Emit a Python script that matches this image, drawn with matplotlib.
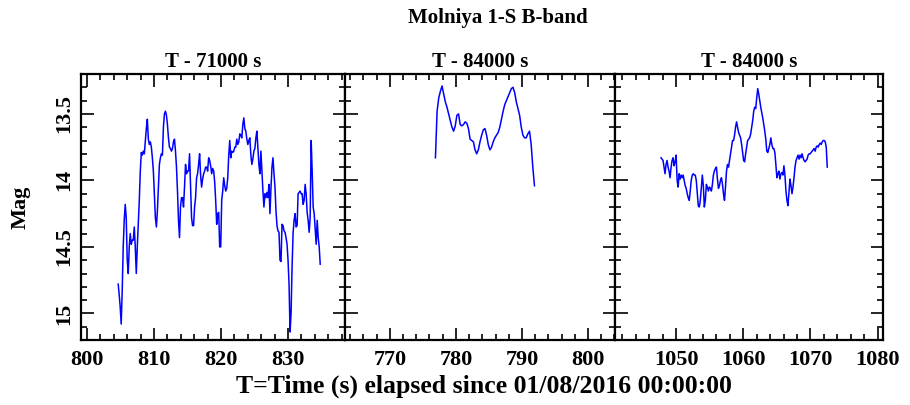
import numpy as np
import matplotlib
matplotlib.use("Agg")
import matplotlib.pyplot as plt
from matplotlib.ticker import MultipleLocator, FixedLocator

# ---- light-curve data (B-band magnitudes, uniform cadence per pass) ----
pass1_start, pass1_step = 804.65, 0.15
pass1_mag = [
    14.78, 14.86, 14.95, 15.08, 14.83, 14.50, 14.30, 14.18, 14.28, 14.60,
    14.70, 14.50, 14.40, 14.48, 14.45, 14.45, 14.35, 14.50, 14.70, 14.50,
    14.33, 14.15, 13.93, 13.79, 13.81, 13.78, 13.80, 13.70, 13.61, 13.54,
    13.69, 13.73, 13.71, 13.75, 13.83, 13.93, 14.10, 14.28, 14.35, 14.23,
    14.05, 13.88, 13.83, 13.80, 13.81, 13.60, 13.50, 13.48, 13.51, 13.58,
    13.68, 13.75, 13.76, 13.78, 13.76, 13.71, 13.69, 13.78, 13.90, 14.08,
    14.30, 14.43, 14.20, 14.13, 14.13, 14.20, 14.05, 13.88, 13.95, 13.93,
    13.93, 13.80, 14.04, 14.28, 14.34, 14.34, 14.20, 14.13, 13.98, 13.95,
    13.88, 13.80, 13.96, 14.05, 13.99, 13.95, 13.93, 13.90, 13.90, 13.93,
    13.83, 13.85, 13.89, 13.95, 13.91, 13.93, 14.01, 14.15, 14.33, 14.25,
    14.24, 14.50, 14.50, 14.15, 14.08, 13.98, 14.04, 14.08, 14.06, 13.98,
    13.81, 13.70, 13.83, 13.78, 13.79, 13.78, 13.75, 13.75, 13.69, 13.73,
    13.71, 13.65, 13.66, 13.68, 13.58, 13.53, 13.61, 13.63, 13.69, 13.73,
    13.70, 13.68, 13.81, 13.88, 13.84, 13.78, 13.76, 13.68, 13.63, 13.75,
    13.88, 13.95, 13.78, 13.93, 14.08, 14.20, 14.10, 14.13, 14.09, 14.13,
    14.03, 14.25, 14.06, 13.90, 13.83, 13.95, 14.05, 14.23, 14.34, 14.38,
    14.39, 14.60, 14.61, 14.33, 14.34, 14.38, 14.39, 14.43, 14.48, 14.60,
    14.78, 15.14, 15.00, 14.65, 14.40, 14.30, 14.25, 14.35, 14.34, 14.10,
    14.09, 14.08, 14.10, 14.10, 14.18, 14.15, 14.03, 14.10, 14.24, 14.30,
    14.39, 14.28, 13.70, 13.93, 14.20, 14.25, 14.36, 14.48, 14.30, 14.43,
    14.50, 14.63,
]

pass2_start, pass2_step = 776.9, 0.25
pass2_mag = [
    13.83, 13.48, 13.38, 13.33, 13.29, 13.35, 13.41, 13.45, 13.50, 13.55,
    13.60, 13.63, 13.59, 13.51, 13.50, 13.58, 13.59, 13.58, 13.56, 13.57,
    13.61, 13.69, 13.70, 13.71, 13.77, 13.80, 13.77, 13.71, 13.66, 13.62,
    13.61, 13.66, 13.73, 13.77, 13.75, 13.71, 13.68, 13.66, 13.64, 13.60,
    13.54, 13.48, 13.43, 13.40, 13.37, 13.34, 13.31, 13.30, 13.34, 13.41,
    13.46, 13.51, 13.60, 13.66, 13.68, 13.68, 13.65, 13.63, 13.73, 13.90,
    14.04,
]

pass3_start, pass3_step = 1047.75, 0.15
pass3_mag = [
    13.83, 13.84, 13.85, 13.90, 13.95, 13.88, 13.85, 13.90, 13.93, 13.98,
    13.90, 13.85, 13.83, 13.89, 13.86, 13.81, 14.00, 14.05, 13.95, 13.99,
    13.96, 13.98, 13.96, 14.00, 14.04, 14.06, 14.10, 14.13, 14.15, 14.08,
    14.00, 13.96, 13.95, 13.96, 13.96, 14.00, 14.10, 14.19, 14.20, 14.15,
    14.05, 13.96, 14.04, 14.20, 14.15, 14.03, 14.05, 14.08, 14.05, 14.06,
    14.08, 14.03, 13.96, 13.93, 13.91, 13.90, 13.99, 14.06, 14.04, 14.00,
    13.98, 14.03, 14.10, 14.15, 14.05, 13.93, 13.88, 13.90, 13.85, 13.80,
    13.75, 13.70, 13.70, 13.66, 13.60, 13.56, 13.60, 13.64, 13.66, 13.68,
    13.73, 13.79, 13.85, 13.86, 13.80, 13.75, 13.70, 13.69, 13.68, 13.65,
    13.60, 13.55, 13.48, 13.45, 13.46, 13.38, 13.31, 13.35, 13.40, 13.45,
    13.49, 13.53, 13.58, 13.63, 13.69, 13.78, 13.79, 13.76, 13.73, 13.68,
    13.73, 13.76, 13.76, 13.79, 13.88, 13.98, 13.95, 13.93, 13.99, 13.95,
    13.94, 13.96, 13.89, 13.96, 14.08, 14.15, 14.19, 14.09, 13.99, 14.04,
    14.10, 14.05, 13.98, 13.90, 13.85, 13.83, 13.81, 13.84, 13.81, 13.83,
    13.80, 13.83, 13.85, 13.86, 13.85, 13.84, 13.81, 13.80, 13.80, 13.79,
    13.78, 13.77, 13.76, 13.78, 13.75, 13.74, 13.75, 13.73, 13.72, 13.73,
    13.71, 13.70, 13.70, 13.71, 13.75, 13.90,
]

panel_titles = ["T - 71000 s", "T - 84000 s", "T - 84000 s"]
x_limits = [(799.1, 838.5), (763.2, 804.1), (1040.9, 1080.8)]
x_major = [[800, 810, 820, 830], [770, 780, 790, 800], [1050, 1060, 1070, 1080]]
y_major = [13.5, 14.0, 14.5, 15.0]
y_labels = ["13.5", "14", "14.5", "15"]
y_limits = (15.2, 13.2)

passes = [
    (pass1_start, pass1_step, pass1_mag),
    (pass2_start, pass2_step, pass2_mag),
    (pass3_start, pass3_step, pass3_mag),
]

FONT = "Liberation Serif"
W, H = 910, 405
fig = plt.figure(figsize=(W / 100, H / 100), dpi=100)
fig.patch.set_facecolor("white")

# axes boxes in pixels: (left, width)
boxes = [(81, 264), (345, 270), (615, 268)]
bottom_px, height_px = 65, 266

for i, ((left, width), (t0, dt, mags)) in enumerate(zip(boxes, passes)):
    ax = fig.add_axes([left / W, bottom_px / H, width / W, height_px / H])
    mags = np.asarray(mags)
    t = t0 + dt * np.arange(len(mags))
    ax.plot(t, mags, color="#0000ff", lw=1.1)

    ax.set_xlim(*x_limits[i])
    ax.set_ylim(*y_limits)
    ax.xaxis.set_major_locator(FixedLocator(x_major[i]))
    ax.xaxis.set_minor_locator(MultipleLocator(2))
    ax.yaxis.set_major_locator(FixedLocator(y_major))
    ax.yaxis.set_minor_locator(MultipleLocator(0.1))

    for sp in ax.spines.values():
        sp.set_linewidth(1.6)
    ax.tick_params(which="both", direction="in", top=True, right=True,
                   width=1.2, colors="black")
    ax.tick_params(which="major", length=9)
    ax.tick_params(which="minor", length=4.5)
    ax.tick_params(axis="x", which="major", pad=7)

    ax.set_xticklabels([str(v) for v in x_major[i]],
                       fontfamily=FONT, fontweight="bold", fontsize=16)
    if i == 0:
        ax.set_yticklabels(y_labels, rotation=90, va="center",
                           fontfamily=FONT, fontweight="bold", fontsize=16)
        ax.tick_params(axis="y", which="major", pad=5)
    else:
        ax.set_yticklabels([])

    ax.set_title(panel_titles[i], fontfamily=FONT, fontweight="bold",
                 fontsize=15, pad=5)

fig.text(498 / W, 1 - 18 / H, "Molniya 1-S B-band", ha="center", va="center",
         fontfamily=FONT, fontweight="bold", fontsize=15)
fig.text(484 / W, 1 - 386 / H, "T=Time (s) elapsed since 01/08/2016 00:00:00",
         ha="center", va="center", fontfamily=FONT, fontweight="bold",
         fontsize=18.5)
fig.text(21 / W, 1 - 207 / H, "Mag", ha="center", va="center", rotation=90,
         fontfamily=FONT, fontweight="bold", fontsize=16)

fig.savefig("out.png", dpi=100, facecolor="white")
